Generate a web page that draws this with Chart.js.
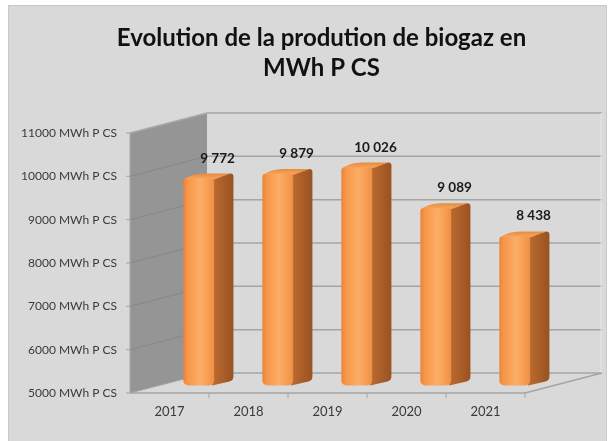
<!DOCTYPE html>
<html>
<head>
<meta charset="utf-8">
<script src="https://cdn.jsdelivr.net/npm/chart.js@4"></script>
<style>
  body { margin: 0; background: #ffffff; }
  canvas { display: block; }
</style>
</head>
<body>
<canvas id="biogaz" width="613" height="441"></canvas>
<script>
// Production de biogaz par année (MWh PCS)
const years = ['2017', '2018', '2019', '2020', '2021'];
const production = [9772, 9879, 10026, 9089, 8438];
const yMin = 5000;
const yMax = 11000;
const yStep = 1000;

// depth of the 3D box (oblique projection)
const DX = 77, DY = -20;
const BAR_FRONT = 0.38, BAR_BACK = 0.63;

function formatFr(v) {
    return String(v).replace(/\B(?=(\d{3})+(?!\d))/g, ' ');
}

function line(ctx, x1, y1, x2, y2, color, w) {
    ctx.beginPath();
    ctx.moveTo(x1, y1);
    ctx.lineTo(x2, y2);
    ctx.strokeStyle = color;
    ctx.lineWidth = w;
    ctx.stroke();
}

function poly(ctx, pts, fill) {
    ctx.beginPath();
    ctx.moveTo(pts[0][0], pts[0][1]);
    for (let i = 1; i < pts.length; i++) ctx.lineTo(pts[i][0], pts[i][1]);
    ctx.closePath();
    ctx.fillStyle = fill;
    ctx.fill();
}

// background panel, walls, floor and gridlines
const box3d = {
    id: 'box3d',
    beforeDraw(chart) {
        const ctx = chart.ctx;
        ctx.save();
        ctx.fillStyle = '#ffffff';
        ctx.fillRect(0, 0, chart.width, chart.height);
        ctx.fillStyle = '#d9d9d9';
        ctx.fillRect(8, 5, 599, 440);
        ctx.strokeStyle = '#c8c8c8';
        ctx.lineWidth = 1;
        ctx.strokeRect(8.5, 5.5, 598, 440);
        ctx.restore();
    },
    beforeDatasetsDraw(chart) {
        const ctx = chart.ctx;
        const y = chart.scales.y;
        const L = chart.chartArea.left, R = chart.chartArea.right;
        const top = y.getPixelForValue(yMax), bot = y.getPixelForValue(yMin);
        ctx.save();

        // back wall gridlines
        for (let v = yMin; v <= yMax; v += yStep) {
            const py = y.getPixelForValue(v) + DY;
            line(ctx, L + DX, py, R + DX, py, '#a4a4a4', 1.5);
        }
        line(ctx, R + DX - 1, top + DY, R + DX - 1, bot + DY, '#e6e6e6', 1);

        // left side wall
        poly(ctx, [[L, top], [L + DX, top + DY], [L + DX, bot + DY], [L, bot]], '#959595');
        for (let v = yMin + yStep; v < yMax; v += yStep) {
            const py = y.getPixelForValue(v);
            line(ctx, L, py, L + DX, py + DY, '#878787', 1);
        }
        line(ctx, L, top, L + DX, top + DY, '#a9a9a9', 1.5);
        line(ctx, L, top, L, bot, '#a8a8a8', 1);

        // floor edges
        line(ctx, L, bot, L + DX, bot + DY, '#a4a4a4', 1);
        line(ctx, L, bot, R, bot, '#a4a4a4', 1.5);
        line(ctx, R, bot, R + DX, bot + DY, '#a4a4a4', 1.5);

        // tick marks
        for (let v = yMin; v <= yMax; v += yStep) {
            const py = y.getPixelForValue(v);
            line(ctx, L - 4, py, L, py, '#a4a4a4', 1);
        }
        const step = (R - L) / years.length;
        for (let i = 1; i <= years.length; i++) {
            line(ctx, L + step * i, bot, L + step * i, bot + 5, '#a4a4a4', 1);
        }
        ctx.restore();
    },
    afterDatasetsDraw(chart) {
        const ctx = chart.ctx;
        const y = chart.scales.y;
        const meta = chart.getDatasetMeta(0);
        const base = y.getPixelForValue(yMin);
        ctx.save();
        meta.data.forEach((bar, i) => {
            const w = bar.width;
            const fx = bar.x - w / 2 + DX * BAR_FRONT;
            const ft = bar.y + DY * BAR_FRONT;
            const fb = base + DY * BAR_FRONT;
            const sdx = DX * (BAR_BACK - BAR_FRONT), sdy = DY * (BAR_BACK - BAR_FRONT);
            const x1 = fx + w;

            // right side face
            const sg = ctx.createLinearGradient(x1, 0, x1 + sdx, 0);
            sg.addColorStop(0, '#b9692f');
            sg.addColorStop(1, '#9a5222');
            ctx.beginPath();
            ctx.moveTo(x1 - 2, ft);
            ctx.lineTo(x1 + sdx - 3, ft + sdy);
            ctx.quadraticCurveTo(x1 + sdx, ft + sdy, x1 + sdx, ft + sdy + 3);
            ctx.lineTo(x1 + sdx, fb + sdy - 4);
            ctx.quadraticCurveTo(x1 + sdx, fb + sdy, x1 + sdx - 4, fb + sdy + 1);
            ctx.lineTo(x1 - 2, fb);
            ctx.closePath();
            ctx.fillStyle = sg;
            ctx.fill();

            // top face
            const tg = ctx.createLinearGradient(0, ft + sdy, 0, ft);
            tg.addColorStop(0, '#e58c45');
            tg.addColorStop(1, '#f7a259');
            ctx.beginPath();
            ctx.moveTo(fx, ft + 1);
            ctx.quadraticCurveTo(fx + sdx * 0.5, ft + sdy - 0.5, fx + sdx + 3, ft + sdy);
            ctx.lineTo(x1 + sdx - 3, ft + sdy);
            ctx.lineTo(x1, ft + 1);
            ctx.closePath();
            ctx.fillStyle = tg;
            ctx.fill();

            // front face
            const fg = ctx.createLinearGradient(fx, 0, x1, 0);
            fg.addColorStop(0, '#e9843a');
            fg.addColorStop(0.15, '#f7974a');
            fg.addColorStop(0.55, '#fbae66');
            fg.addColorStop(0.85, '#f69a4f');
            fg.addColorStop(1, '#e98f46');
            ctx.beginPath();
            ctx.roundRect(fx, ft, w, fb - ft, [3, 3, 5, 5]);
            ctx.fillStyle = fg;
            ctx.fill();

            // value label
            ctx.font = 'bold 13.5px Lato';
            ctx.fillStyle = '#1a1a1a';
            ctx.textAlign = 'center';
            ctx.textBaseline = 'middle';
            ctx.fillText(formatFr(production[i]), bar.x + 48, bar.y - 28);
        });
        ctx.restore();
    }
};

new Chart(document.getElementById('biogaz'), {
    type: 'bar',
    data: {
        labels: years,
        datasets: [{
            data: production,
            backgroundColor: 'rgba(0,0,0,0)',
            categoryPercentage: 1,
            barPercentage: 0.39
        }]
    },
    options: {
        responsive: false,
        animation: false,
        layout: { padding: { left: 14, right: -16, top: 0, bottom: 0 } },
        plugins: {
            legend: { display: false },
            tooltip: { enabled: false },
            title: {
                display: true,
                text: ['Evolution de la prodution de biogaz en', 'MWh P CS'],
                color: '#111111',
                font: { family: 'Lato', size: 24, weight: 'bold', lineHeight: 1.25 },
                padding: { top: 23, bottom: 50 }
            }
        },
        scales: {
            x: {
                grid: { display: false, drawTicks: false },
                border: { display: false },
                ticks: { color: '#3a3a3a', font: { family: 'Lato', size: 13 }, padding: 11 },
                afterFit(scale) { scale.height = 48; }
            },
            y: {
                min: yMin,
                max: yMax,
                grid: { display: false, drawTicks: false },
                border: { display: false },
                ticks: {
                    stepSize: yStep,
                    color: '#3a3a3a',
                    font: { family: 'Lato', size: 12 },
                    padding: 13,
                    callback: v => v + ' MWh P CS'
                },
                afterFit(scale) { scale.width = 116; }
            },
            // empty right-hand box that leaves room for the 3D depth
            side: {
                type: 'linear',
                position: 'right',
                grid: { display: false, drawTicks: false },
                border: { display: false },
                ticks: { display: false },
                afterFit(scale) { scale.width = 104; }
            }
        }
    },
    plugins: [box3d]
});
</script>
</body>
</html>
